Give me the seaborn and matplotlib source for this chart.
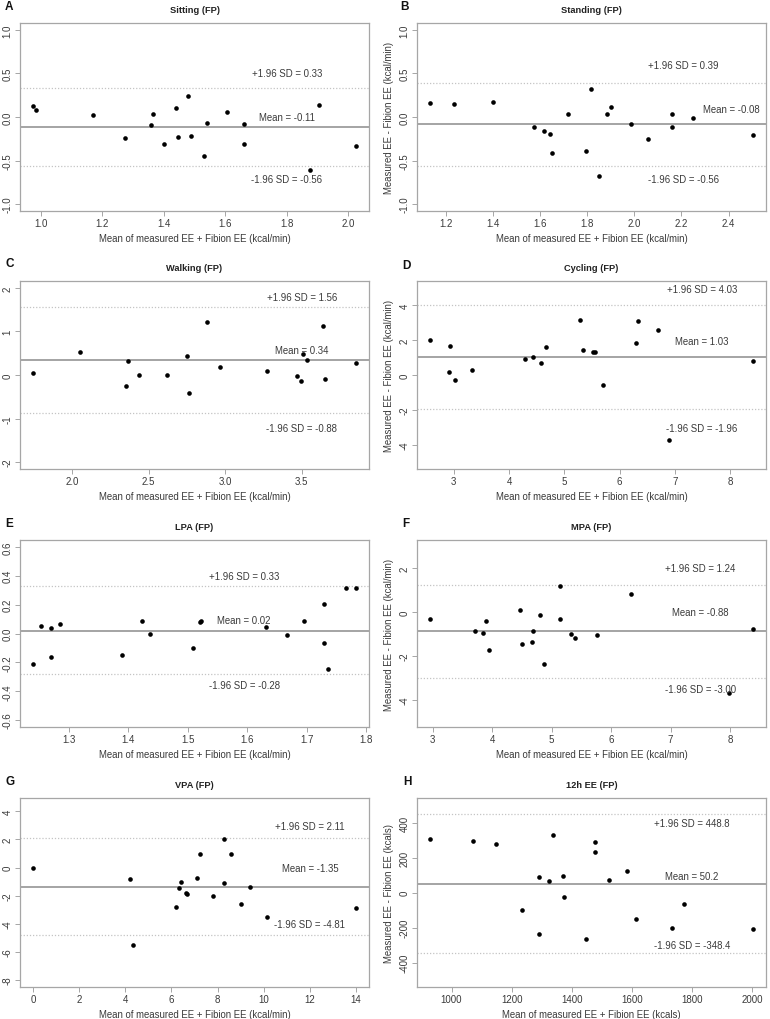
import numpy as np
import pandas as pd
import matplotlib
matplotlib.use("Agg")
import matplotlib.pyplot as plt
import seaborn as sns

sns.set_style("white")
plt.rcParams['font.family'] = ['Liberation Sans', 'DejaVu Sans']

# ---------------- data ----------------
titles = ["Sitting (FP)", "Standing (FP)", "Walking (FP)", "Cycling (FP)",
          "LPA (FP)", "MPA (FP)", "VPA (FP)", "12h EE (FP)"]
letters = ["A", "B", "C", "D", "E", "F", "G", "H"]

sitting_mean = [0.975, 0.985, 1.17, 1.275, 1.36, 1.365, 1.40, 1.44, 1.445, 1.48,
                1.49, 1.53, 1.54, 1.605, 1.66, 1.66, 1.875, 1.905, 2.025]
sitting_diff = [0.13, 0.08, 0.02, -0.24, -0.09, 0.03, -0.31, 0.10, -0.23, 0.24,
                -0.22, -0.45, -0.07, 0.06, -0.08, -0.31, -0.61, 0.14, -0.33]

standing_mean = [1.134, 1.237, 1.401, 1.575, 1.616, 1.644, 1.65, 1.72, 1.797, 1.817,
                 1.852, 1.883, 1.90, 1.986, 2.057, 2.16, 2.16, 2.248, 2.504]
standing_diff = [0.16, 0.146, 0.177, -0.115, -0.16, -0.20, -0.415, 0.035, -0.385, 0.323,
                 -0.677, 0.04, 0.12, -0.08, -0.25, 0.03, -0.12, -0.015, -0.21]

walking_mean = [1.744, 2.052, 2.351, 2.364, 2.44, 2.618, 2.748, 2.763, 2.884, 2.965,
                3.275, 3.47, 3.496, 3.51, 3.533, 3.64, 3.652, 3.858]
walking_diff = [0.046, 0.52, -0.26, 0.314, 0.008, -0.008, 0.43, -0.41, 1.226, 0.176,
                0.092, -0.03, -0.138, 0.49, 0.345, 1.12, -0.09, 0.276]

cycling_mean = [2.568, 2.916, 2.94, 3.03, 3.336, 4.28, 4.43, 4.585, 4.663, 5.275,
                5.335, 5.51, 5.557, 5.707, 6.29, 6.325, 6.69, 6.90, 8.414]
cycling_diff = [2.0, 0.19, 1.69, -0.27, 0.31, 0.92, 1.04, 0.67, 1.615, 3.15,
                1.44, 1.31, 1.35, -0.58, 1.83, 3.13, 2.58, -3.73, 0.83]

lpa_mean = [1.24, 1.2526, 1.27, 1.2705, 1.286, 1.39, 1.4226, 1.4366, 1.509, 1.5215,
            1.522, 1.632, 1.667, 1.695, 1.729, 1.73, 1.736, 1.767, 1.783]
lpa_diff = [-0.211, 0.055, 0.041, -0.166, 0.064, -0.147, 0.085, -0.005, -0.103, 0.078,
            0.09, 0.046, -0.007, 0.09, 0.202, -0.067, -0.248, 0.315, 0.313]

mpa_mean = [2.955, 3.72, 3.853, 3.903, 3.953, 4.472, 4.494, 4.672, 4.69, 4.806,
            4.867, 5.135, 5.146, 5.324, 5.397, 5.76, 6.333, 7.983, 8.385]
mpa_diff = [-0.29, -0.88, -0.97, -0.385, -1.72, 0.077, -1.446, -1.385, -0.86, -0.138,
            -2.35, -0.32, 1.215, -1.0, -1.2, -1.03, 0.83, -3.71, -0.785]

vpa_mean = [0.0, 4.22, 4.34, 6.2, 6.35, 6.42, 6.65, 6.68, 7.12, 7.22,
            7.82, 8.27, 8.28, 8.59, 9.03, 9.4, 10.15, 14.0]
vpa_diff = [0.0, -0.82, -5.52, -2.84, -1.44, -1.02, -1.79, -1.89, -0.72, 0.97,
            -2.01, 2.04, -1.09, 0.97, -2.56, -1.37, -3.51, -2.89]

ee12_mean = [928, 1073, 1147, 1234, 1290, 1292, 1326, 1338, 1371, 1373,
             1449, 1477, 1479, 1523, 1583, 1613, 1733, 1773, 2004]
ee12_diff = [303, 293, 278, -100, 90, -236, 65, 330, 94, -23,
             -265, 288, 232, 69, 121, -150, -200, -63, -211]

bias = [-0.11, -0.08, 0.34, 1.03, 0.02, -0.88, -1.35, 50.2]
upper_loa = [0.33, 0.39, 1.56, 4.03, 0.33, 1.24, 2.11, 448.8]
lower_loa = [-0.56, -0.56, -0.88, -1.96, -0.28, -3.00, -4.81, -348.4]
value_fmt = ["{:.2f}"] * 7 + ["{:.1f}"]

xticks = [[1.0, 1.2, 1.4, 1.6, 1.8, 2.0],
          [1.2, 1.4, 1.6, 1.8, 2.0, 2.2, 2.4],
          [2.0, 2.5, 3.0, 3.5],
          [3, 4, 5, 6, 7, 8],
          [1.3, 1.4, 1.5, 1.6, 1.7, 1.8],
          [3, 4, 5, 6, 7, 8],
          [0, 2, 4, 6, 8, 10, 12, 14],
          [1000, 1200, 1400, 1600, 1800, 2000]]
xticklabels = [["1.0", "1.2", "1.4", "1.6", "1.8", "2.0"],
               ["1.2", "1.4", "1.6", "1.8", "2.0", "2.2", "2.4"],
               ["2.0", "2.5", "3.0", "3.5"],
               ["3", "4", "5", "6", "7", "8"],
               ["1.3", "1.4", "1.5", "1.6", "1.7", "1.8"],
               ["3", "4", "5", "6", "7", "8"],
               ["0", "2", "4", "6", "8", "10", "12", "14"],
               ["1000", "1200", "1400", "1600", "1800", "2000"]]
yticks = [[-1.0, -0.5, 0.0, 0.5, 1.0],
          [-1.0, -0.5, 0.0, 0.5, 1.0],
          [-2, -1, 0, 1, 2],
          [-4, -2, 0, 2, 4],
          [-0.6, -0.4, -0.2, 0.0, 0.2, 0.4, 0.6],
          [-4, -2, 0, 2],
          [-8, -6, -4, -2, 0, 2, 4],
          [-400, -200, 0, 200, 400]]
yticklabels = [["-1.0", "-0.5", "0.0", "0.5", "1.0"],
               ["-1.0", "-0.5", "0.0", "0.5", "1.0"],
               ["-2", "-1", "0", "1", "2"],
               ["-4", "-2", "0", "2", "4"],
               ["-0.6", "-0.4", "-0.2", "0.0", "0.2", "0.4", "0.6"],
               ["-4", "-2", "0", "2"],
               ["-8", "-6", "-4", "-2", "0", "2", "4"],
               ["-400", "-200", "0", "200", "400"]]
xlabels = ["Mean of measured EE + Fibion EE (kcal/min)"] * 7 + \
          ["Mean of measured EE + Fibion EE (kcals)"]
ylabels = [None, "Measured EE - Fibion EE (kcal/min)",
           None, "Measured EE - Fibion EE (kcal/min)",
           None, "Measured EE - Fibion EE (kcal/min)",
           None, "Measured EE - Fibion EE (kcals)"]

# ---------------- layout (positions / styles) ----------------
xlims = [(0.933, 2.067), (1.079, 2.559), (1.66, 3.94), (2.334, 8.648),
         (1.218, 1.805), (2.738, 8.602), (-0.56, 14.56), (885, 2047)]
ylims = [(-1.08, 1.08), (-1.08, 1.08), (-2.16, 2.16), (-5.4, 5.4),
         (-0.648, 0.648), (-5.25, 3.3), (-8.5, 4.95), (-540, 540)]
# annotation positions: x, y_upper, y_mean, y_lower (data coords)
ann_pos = [(1.80, 0.50, 0.0, -0.71),
           (2.21, 0.596, None, -0.71),
           (3.50, 1.785, 0.58, -1.21),
           (7.49, 4.96, 1.94, -3.06),
           (1.595, 0.398, 0.094, -0.359),
           (7.50, 2.0, 0.0, -3.49),
           (12.0, 2.96, -0.05, -4.0),
           (1801, 399, 92, -301)]
mean_text_alt = {1: (2.414, 0.092)}

W, H = 770, 1020
col_x = [(20, 369), (417, 766)]
row_y = [(24, 212), (282, 470), (541, 728), (799, 988)]
letter_pos = [(5, 7), (400, 7), (5, 264), (402, 266),
              (5, 524), (402, 524), (6, 782), (403, 782)]

datasets = [(sitting_mean, sitting_diff), (standing_mean, standing_diff),
            (walking_mean, walking_diff), (cycling_mean, cycling_diff),
            (lpa_mean, lpa_diff), (mpa_mean, mpa_diff),
            (vpa_mean, vpa_diff), (ee12_mean, ee12_diff)]

spine_col = "#a6a6a6"
text_col = "#3a3a3a"
ann_size = 6.9

fig = plt.figure(figsize=(W / 100, H / 100), dpi=100)
fig.patch.set_facecolor("white")

for i in range(8):
    r, c = divmod(i, 2)
    x0, x1 = col_x[c]
    y0, y1 = row_y[r]
    ax = fig.add_axes([x0 / W, 1 - y1 / H, (x1 - x0) / W, (y1 - y0) / H])
    mx, dy = datasets[i]
    df = pd.DataFrame({"mean": mx, "diff": dy})
    sns.scatterplot(data=df, x="mean", y="diff", ax=ax, color="black",
                    s=11, linewidth=0, zorder=3)
    ax.axhline(bias[i], color="#8c8c8c", lw=1.1, zorder=2)
    ax.axhline(upper_loa[i], color="#c4c4c4", lw=0.9, ls=(0, (1, 1.5)), zorder=2)
    ax.axhline(lower_loa[i], color="#c4c4c4", lw=0.9, ls=(0, (1, 1.5)), zorder=2)

    ax.set_xlim(*xlims[i])
    ax.set_ylim(*ylims[i])
    ax.set_xticks(xticks[i])
    ax.set_xticklabels(xticklabels[i])
    ax.set_yticks(yticks[i])
    ax.set_yticklabels(yticklabels[i], rotation=90, va="center")
    ax.tick_params(axis="both", direction="out", length=3.5, width=0.7,
                   color=spine_col, labelcolor=text_col, labelsize=7.0, pad=1.8,
                   left=True, bottom=True)
    for sp in ax.spines.values():
        sp.set_color(spine_col)
        sp.set_linewidth(0.9)

    ax.set_xlabel(xlabels[i], fontsize=6.9, color=text_col, labelpad=3)
    if ylabels[i]:
        ax.set_ylabel(ylabels[i], fontsize=6.9, color=text_col, labelpad=4)
    else:
        ax.set_ylabel("")
    ax.set_title(titles[i], fontsize=6.7, fontweight="bold", color="#222222", pad=8)

    fmt = value_fmt[i]
    px, yu, ym, yl = ann_pos[i]
    ax.text(px, yu, "+1.96 SD = " + fmt.format(upper_loa[i]), ha="center", va="center",
            fontsize=ann_size, color=text_col)
    if i in mean_text_alt:
        mxp, myp = mean_text_alt[i]
    else:
        mxp, myp = px, ym
    ax.text(mxp, myp, "Mean = " + fmt.format(bias[i]), ha="center", va="center",
            fontsize=ann_size, color=text_col)
    ax.text(px, yl, "-1.96 SD = " + fmt.format(lower_loa[i]), ha="center", va="center",
            fontsize=ann_size, color=text_col)

    lx, ly = letter_pos[i]
    fig.text(lx / W, 1 - ly / H, letters[i], fontsize=8.5, fontweight="bold",
             ha="left", va="center", color="#111111")

fig.savefig("out.png", dpi=100, facecolor="white")
